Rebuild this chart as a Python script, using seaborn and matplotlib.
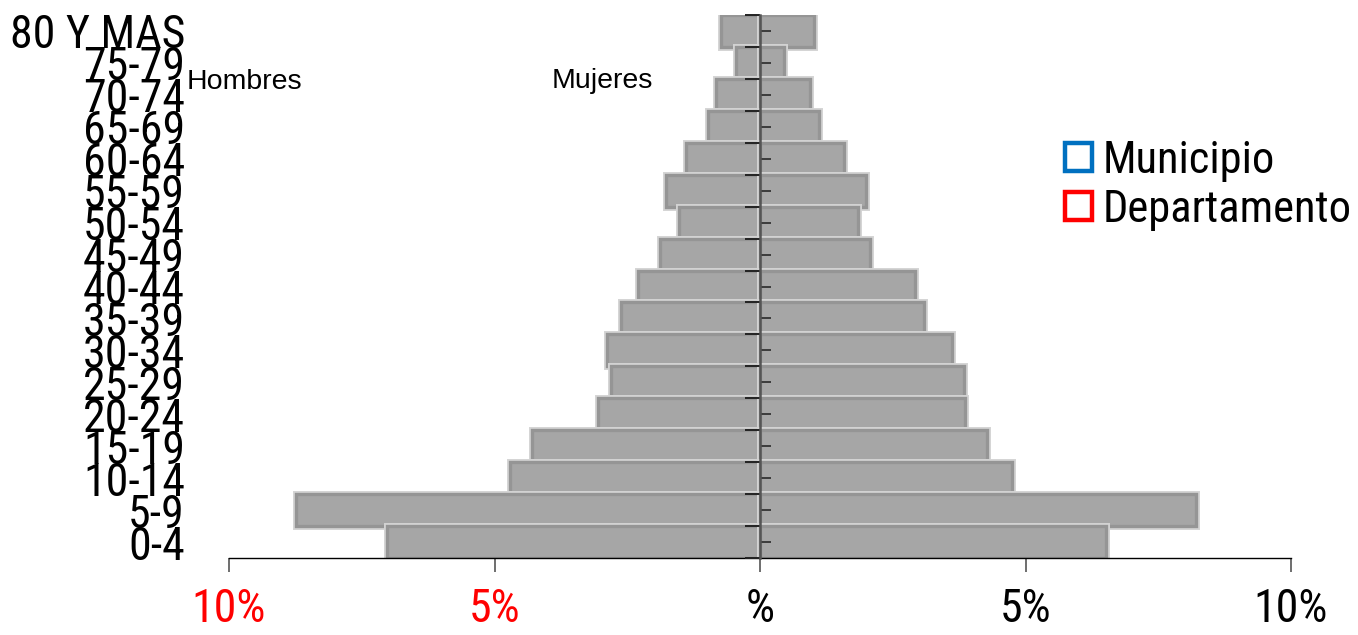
import matplotlib
matplotlib.use('Agg')
import matplotlib.pyplot as plt
import matplotlib.patheffects as pe
from matplotlib.patches import Patch
from matplotlib import font_manager
import seaborn as sns
import numpy as np
import pandas as pd

# ---- data ----
grupos = ["80 Y MAS", "75-79", "70-74", "65-69", "60-64", "55-59", "50-54",
          "45-49", "40-44", "35-39", "30-34", "25-29", "20-24", "15-19",
          "10-14", "5-9", "0-4"]
hombres = [0.74, 0.46, 0.82, 0.97, 1.39, 1.77, 1.53, 1.88, 2.29, 2.62, 2.88,
           2.81, 3.06, 4.29, 4.70, 8.74, 7.02]
mujeres = [1.02, 0.45, 0.94, 1.11, 1.59, 2.00, 1.84, 2.07, 2.92, 3.09, 3.61,
           3.85, 3.87, 4.28, 4.75, 8.21, 6.51]
xticks = [-10, -5, 0, 5, 10]
xticklabels = ["10%", "5%", "%", "5%", "10%"]
xtickcolors = ["#FF0000", "#FF0000", "black", "black", "black"]
legend_labels = ["Municipio", "Departamento"]
legend_colors = ["#0070C0", "#FF0000"]

sns.set_style("white")
names = {f.name for f in font_manager.fontManager.ttflist}
narrow = "Liberation Sans"
for cand in ["Liberation Sans Narrow", "Arial Narrow", "Roboto Condensed",
             "Archivo Narrow", "PT Sans Narrow"]:
    if cand in names:
        narrow = cand
        break
plt.rcParams["font.family"] = ["Liberation Sans", "DejaVu Sans"]
plt.rcParams["text.color"] = "black"
big = 33 if narrow != "Liberation Sans" else 28
legsize = 32 if narrow != "Liberation Sans" else 28

W, H = 1358, 635
fig = plt.figure(figsize=(W / 100, H / 100), dpi=100)
ax = fig.add_axes([229 / W, 1 - 558 / H, (1291 - 229) / W, (558 - 15) / H])

df = pd.DataFrame({"grupo": grupos,
                   "hombres": -np.array(hombres),
                   "mujeres": np.array(mujeres)})
for col in ["hombres", "mujeres"]:
    sns.barplot(data=df, x=col, y="grupo", order=grupos, orient="h",
                color="#A6A6A6", saturation=1, width=1.0,
                edgecolor="#959595", linewidth=2.4, ax=ax)
for p in ax.patches:
    p.set_path_effects([pe.withStroke(linewidth=5, foreground="#D4D4D4")])

ax.set_xlim(-10, 10)
ax.set_ylim(16.5, -0.5)
ax.set_xlabel("")
ax.set_ylabel("")
for s in ["top", "right", "left"]:
    ax.spines[s].set_visible(False)
ax.spines["bottom"].set_color("black")
ax.spines["bottom"].set_linewidth(1.0)

ax.set_xticks(xticks)
ax.set_xticklabels(xticklabels)
ax.tick_params(axis="x", direction="out", length=10, width=1.2,
               color="#555555", pad=11, labelsize=big, bottom=True)
for lbl, c in zip(ax.get_xticklabels(), xtickcolors):
    lbl.set_color(c)
    lbl.set_fontfamily(narrow)

ax.tick_params(axis="y", length=0, pad=31.7, labelsize=big, left=True)
for lbl in ax.get_yticklabels():
    lbl.set_fontfamily(narrow)
    lbl.set_color("black")

# central axis with ticks
ax2 = ax.twinx()
ax2.set_ylim(16.5, -0.5)
for s in ["top", "left", "bottom"]:
    ax2.spines[s].set_visible(False)
ax2.spines["right"].set_position(("data", 0))
ax2.spines["right"].set_color("#555555")
ax2.spines["right"].set_linewidth(1.8)
ax2.set_yticks(np.arange(-0.5, 17, 1))
ax2.set_yticks(np.arange(0, 17, 1), minor=True)
ax2.tick_params(axis="y", which="major", direction="in", length=11,
                width=1.4, color="#222222", labelright=False)
ax2.tick_params(axis="y", which="minor", direction="out", length=8,
                width=1.3, color="#333333", labelright=False)

fig.text(187 / W, 1 - 89 / H, "Hombres", fontsize=20.5, va="baseline",
         ha="left", color="black")
fig.text(552 / W, 1 - 88 / H, "Mujeres", fontsize=20.5, va="baseline",
         ha="left", color="black")

handles = [Patch(facecolor="white", edgecolor=c, linewidth=3.2) for c in legend_colors]
leg = fig.legend(handles, legend_labels, loc="upper left",
                 bbox_to_anchor=(1065 / W, 1 - 140 / H), frameon=False,
                 prop={"family": narrow, "size": legsize},
                 handlelength=0.6, handleheight=0.6, handletextpad=0.25,
                 labelspacing=0.15, borderpad=0, borderaxespad=0)
for t in leg.get_texts():
    t.set_color("black")

fig.savefig("out.png", dpi=100)
